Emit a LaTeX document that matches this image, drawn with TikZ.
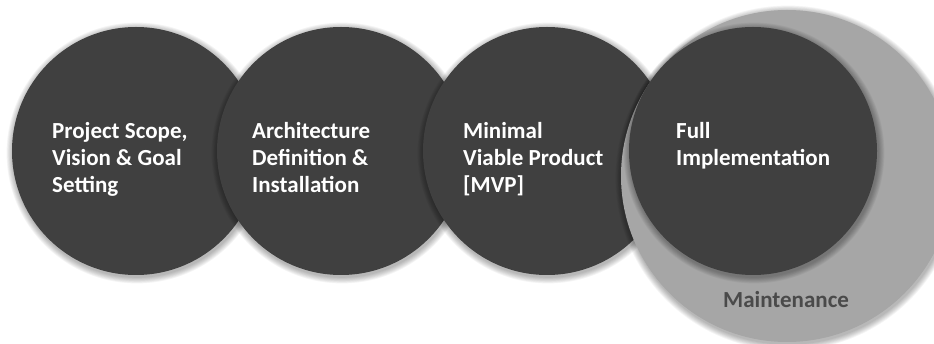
\documentclass[tikz,border=0pt]{standalone}
\usepackage{fontspec}
\setmainfont{Carlito}
\definecolor{darkphase}{HTML}{404040}
\definecolor{greyring}{HTML}{A6A6A6}
\definecolor{mainttext}{HTML}{4A4A4A}
\tikzset{
  phase/.style={circle, fill=darkphase, draw=none, minimum size=248pt, inner sep=0pt},
  ringbox/.style={circle, fill=greyring, draw=none, minimum size=332pt, inner sep=0pt},
  label1/.style={anchor=base west, inner sep=0pt, text=white, font=\fontsize{23}{27}\selectfont\bfseries},
  label2/.style={anchor=base west, inner sep=0pt, text=mainttext, font=\fontsize{23}{27}\selectfont\bfseries},
}
\newcommand\softshade[3]{%
  \foreach \k in {1,...,8}{\fill[black,opacity=0.04] (#1+1,#2+2) circle ({#3+\k*0.8});}}
\begin{document}
\begin{tikzpicture}[x=1pt,y=-1pt]
\useasboundingbox (0,0) rectangle (934,344);
\clip (0,0) rectangle (934,344);
% circle 1
\softshade{136}{151}{124}
\node[phase] (c1) at (136,151) {};
% circle 2
\softshade{341}{151}{124}
\node[phase] (c2) at (341,151) {};
% circle 3
\softshade{547}{151}{124}
\node[phase] (c3) at (547,151) {};
% maintenance ring
\softshade{787}{176}{166}
\node[ringbox] (ring) at (787,176) {};
% circle 4
\softshade{753}{151}{124}
\node[phase] (c4) at (753,151) {};
% texts
\node[label1] (t1a) at (52,139) {Project Scope,};
\node[label1] (t1b) at (52,166) {Vision \& Goal};
\node[label1] (t1c) at (52,193) {Setting};
\node[label1] (t2a) at (252,139) {Architecture};
\node[label1] (t2b) at (252,166) {Definition \&};
\node[label1] (t2c) at (252,193) {Installation};
\node[label1] (t3a) at (463,139) {Minimal};
\node[label1] (t3b) at (463,166) {Viable Product};
\node[label1] (t3c) at (463,193) {[MVP]};
\node[label1] (t4a) at (676,139) {Full};
\node[label1] (t4b) at (676,166) {Implementation};
\node[label2] (tm) at (723,308) {Maintenance};
\end{tikzpicture}
\end{document}
